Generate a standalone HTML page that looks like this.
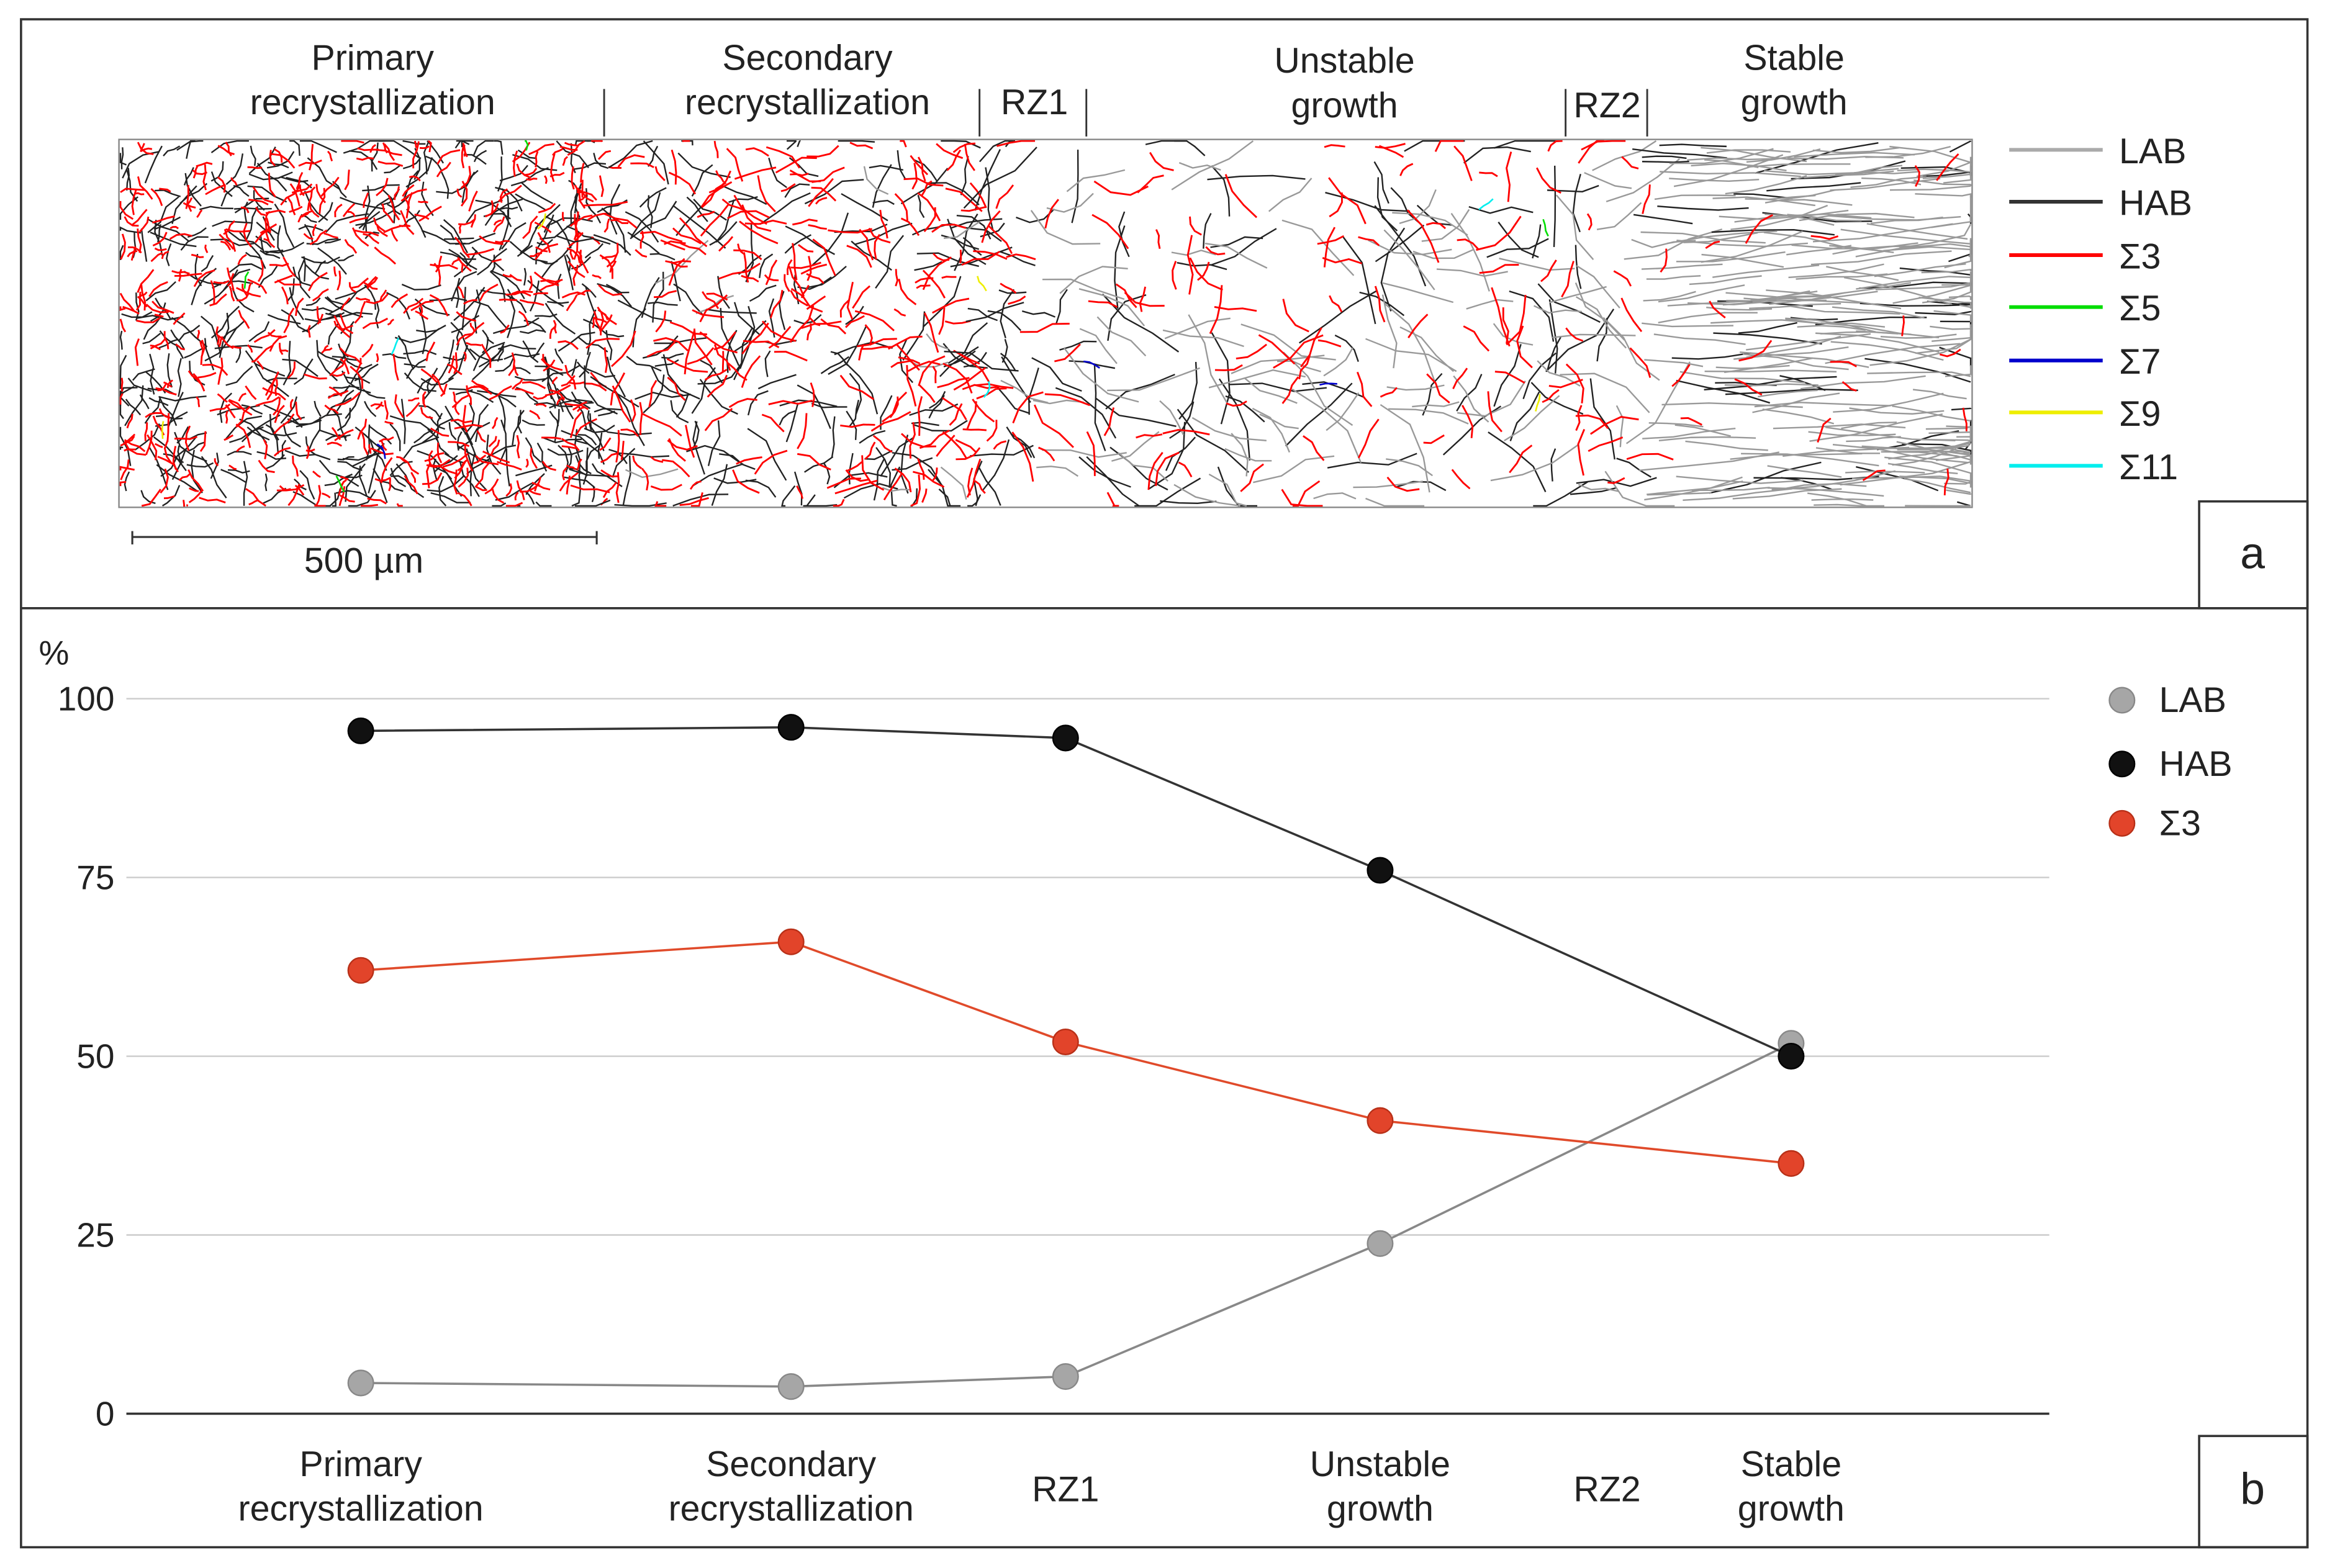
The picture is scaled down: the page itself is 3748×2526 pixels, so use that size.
<!DOCTYPE html>
<html><head><meta charset="utf-8"><style>
html,body{margin:0;padding:0;background:#fff}
svg{display:block}
text{font-family:"Liberation Sans",sans-serif;fill:#222}
</style></head><body>
<svg id="fig" width="3748" height="2526" viewBox="0 0 1568 1057" xmlns="http://www.w3.org/2000/svg">
<rect x="0" y="0" width="1568" height="1057" fill="#fff"/>
<rect x="14" y="13" width="1541" height="1030" fill="none" stroke="#333" stroke-width="1.5"/>
<line x1="14" y1="410" x2="1555" y2="410" stroke="#333" stroke-width="1.5"/>
<g>
 <g font-size="24" text-anchor="middle">
  <text x="251" y="47">Primary</text><text x="251" y="77">recrystallization</text>
  <text x="544" y="47">Secondary</text><text x="544" y="77">recrystallization</text>
  <text x="697" y="77">RZ1</text>
  <text x="906" y="49">Unstable</text><text x="906" y="79">growth</text>
  <text x="1083" y="79">RZ2</text>
  <text x="1209" y="47">Stable</text><text x="1209" y="77">growth</text>
 </g>
 <g stroke="#333" stroke-width="1.2">
  <line x1="407" y1="60" x2="407" y2="92"/><line x1="660" y1="60" x2="660" y2="92"/>
  <line x1="732" y1="60" x2="732" y2="92"/><line x1="1055" y1="60" x2="1055" y2="92"/>
  <line x1="1110" y1="60" x2="1110" y2="92"/>
 </g>
 <g id="map"></g>
 <rect x="80" y="94" width="1249" height="248" fill="none" stroke="#888" stroke-width="1"/>
 <g stroke="#333" stroke-width="1.3">
  <line x1="89" y1="362" x2="402" y2="362"/><line x1="89" y1="358" x2="89" y2="367"/><line x1="402" y1="358" x2="402" y2="367"/>
 </g>
 <text x="245" y="386" font-size="24" text-anchor="middle">500 µm</text>
 <g id="legA" font-size="24"></g>
 <rect x="1482" y="338" width="73" height="72" fill="none" stroke="#333" stroke-width="1.5"/>
 <text x="1518" y="383" font-size="30" text-anchor="middle">a</text>
</g>
<g id="chart"></g>
<rect x="1482" y="968" width="73" height="75" fill="none" stroke="#333" stroke-width="1.5"/>
<text x="1518" y="1014" font-size="30" text-anchor="middle">b</text>
</svg>
<script>
const NS="http://www.w3.org/2000/svg";
function mk(tag,attrs,parent){const e=document.createElementNS(NS,tag);for(const k in attrs)e.setAttribute(k,attrs[k]);parent.appendChild(e);return e;}

// ---- chart data ----
const categories=["Primary recrystallization","Secondary recrystallization","RZ1","Unstable growth","RZ2","Stable growth"];
const catLines=[["Primary","recrystallization"],["Secondary","recrystallization"],["RZ1"],["Unstable","growth"],["RZ2"],["Stable","growth"]];
const labValues=[4.3,3.8,5.2,23.8,null,51.8];
const habValues=[95.5,96,94.5,76,null,50];
const s3Values=[62,66,52,41,null,35];
const yTicks=[0,25,50,75,100];

const catX=[243,533,718,930,1083,1207];
const xScale=i=>catX[i];
const yScale=v=>953-v*4.82;
const chart=document.getElementById('chart');

yTicks.forEach(t=>{
  const g=mk('line',{x1:85,x2:1381,y1:yScale(t),y2:yScale(t),stroke:t===0?'#333':'#ccc','stroke-width':t===0?1.5:1},chart);
  
  
  const tx=mk('text',{x:77,y:yScale(t)+8,'font-size':23,'text-anchor':'end'},chart);
  tx.textContent=t;
  
  
});
const pct=mk('text',{x:26,y:448,'font-size':23},chart);pct.textContent='%';



catLines.forEach((ls,i)=>{
  const t=mk('text',{x:xScale(i),'font-size':24,'text-anchor':'middle'},chart);
  
  
  const y0=ls.length===1?1012:995;
  ls.forEach((l,j)=>{const s=mk('tspan',{x:xScale(i),y:y0+j*30},t);s.textContent=l;});
});

const series=[
 {name:'lab',vals:labValues,line:'#888',fill:'#a6a6a6',stroke:'#888'},
 {name:'s3',vals:s3Values,line:'#e04a2a',fill:'#e2442a',stroke:'#b83018'},
 {name:'hab',vals:habValues,line:'#333',fill:'#111',stroke:'#000'}
];
series.forEach(s=>{
  const pts=[];s.vals.forEach((v,i)=>{if(v!=null)pts.push(xScale(i)+','+yScale(v));});
  const pl=mk('polyline',{points:pts.join(' '),fill:'none',stroke:s.line,'stroke-width':1.5},chart);
  
  
});
series.forEach(s=>{
  s.vals.forEach((v,i)=>{if(v==null)return;
    const c=mk('circle',{cx:xScale(i),cy:yScale(v),r:8.5,fill:s.fill,stroke:s.stroke,'stroke-width':1},chart);
    
    
  });
});
const legB=[['LAB','#a6a6a6','#888',472],['HAB','#111','#000',515],['Σ3','#e2442a','#b83018',555]];
legB.forEach(l=>{
  const c=mk('circle',{cx:1430,cy:l[3],r:8.5,fill:l[1],stroke:l[2]},chart);
  
  
  const t=mk('text',{x:1455,y:l[3]+8,'font-size':24},chart);t.textContent=l[0];
  
  
});

// ---- top legend ----
const legA=document.getElementById('legA');
const legAItems=[['LAB','#aaa',101],['HAB','#333',136],['Σ3','#f00',172],['Σ5','#0d0',207],['Σ7','#00c',243],['Σ9','#ee0',278],['Σ11','#0ee',314]];
legAItems.forEach(l=>{
  const ln=mk('line',{x1:1354,x2:1417,y1:l[2],y2:l[2],stroke:l[1],'stroke-width':2.5},legA);
  
  
  const t=mk('text',{x:1428,y:l[2]+9,'font-size':24},legA);t.textContent=l[0];
  
  
});

// ---- procedural EBSD map texture ----
const map=document.getElementById('map');
let seed=12345;function rnd(){seed=(seed*1103515245+12345)%2147483648;return seed/2147483648;}
function seg(x,y,len,ang,col,w,jit){
  let d='M'+x.toFixed(1)+' '+y.toFixed(1);let cx=x,cy=y;const n=3;
  for(let k=0;k<n;k++){ang+=(rnd()-0.5)*jit;cx+=Math.cos(ang)*len/n;cy+=Math.sin(ang)*len/n;
    cx=Math.max(81,Math.min(1328,cx));cy=Math.max(95,Math.min(341,cy));d+=' L'+cx.toFixed(1)+' '+cy.toFixed(1);}
  return '<path d="'+d+'" stroke="'+col+'" stroke-width="'+w+'" fill="none"/>';
}
let html='';
function region(x0,x1,nBlack,nRed,nGray,lenB,lenR,horiz){
  const j=horiz?0.3:1.2;
  for(let i=0;i<nBlack;i++){const x=x0+rnd()*(x1-x0),y=95+rnd()*246;html+=seg(x,y,lenB*(0.5+rnd()),horiz?(rnd()-0.5)*0.4:rnd()*6.28,'#222',1,j);}
  for(let i=0;i<nGray;i++){const x=x0+rnd()*(x1-x0),y=95+rnd()*246;html+=seg(x,y,lenB*(0.6+rnd()),horiz?(rnd()-0.5)*0.15:(rnd()-0.5)*1.2+0.3,'#999',1,j);}
  for(let i=0;i<nRed;i++){const x=x0+rnd()*(x1-x0),y=95+rnd()*246;html+=seg(x,y,lenR*(0.4+rnd()),rnd()*6.28,'#f00',1.2,1.2);}
}
region(81,410,520,560,0,22,14,false);
region(410,680,200,260,10,30,22,false);
region(680,1100,90,110,90,45,30,false);
region(1100,1328,45,20,200,60,20,true);
for(let i=0;i<14;i++){const cols=['#ee0','#0d0','#00c','#0ee'];html+=seg(81+rnd()*1000,95+rnd()*246,12,rnd()*6.28,cols[i%4],1.1,1.2);}
map.innerHTML=html;
</script>
</body></html>
